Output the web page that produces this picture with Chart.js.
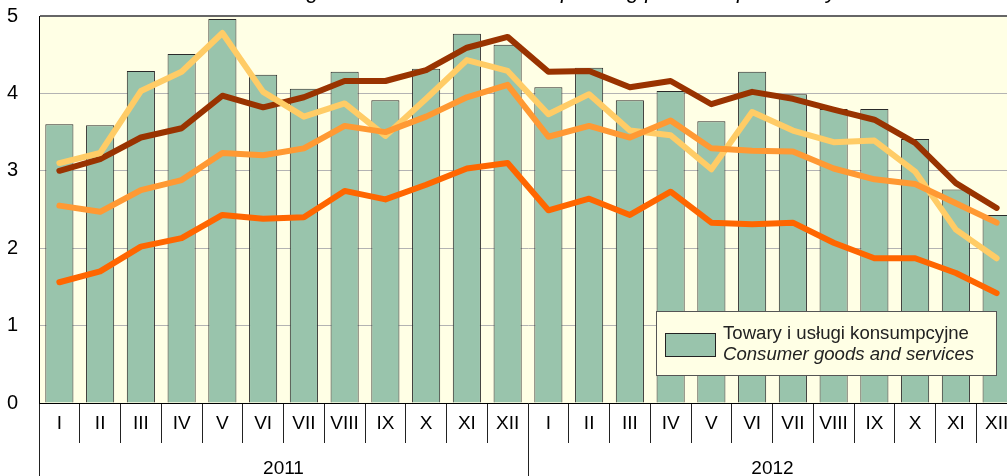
<!DOCTYPE html>
<html>
<head>
<meta charset="utf-8">
<script src="https://cdn.jsdelivr.net/npm/chart.js@4.4.1/dist/chart.umd.min.js"></script>
<style>
  body { margin: 0; overflow: hidden; background: #fff; }
  #wrap { position: absolute; left: 0; top: 0; width: 1040px; height: 476px; }
  #cut { position: absolute; left: 254px; top: -22px; line-height: 25px; font: italic 22px "Liberation Sans", Arial, sans-serif; color: #000; white-space: nowrap; }
</style>
</head>
<body>
<div id="wrap"><canvas id="chart" width="1040" height="476"></canvas></div>
<div id="cut">Change in relation to the corresponding period of previous year</div>
<script>
const months = ['I','II','III','IV','V','VI','VII','VIII','IX','X','XI','XII',
                'I','II','III','IV','V','VI','VII','VIII','IX','X','XI','XII'];
const years = ['2011', '2012'];
const legendLines = ['Towary i usługi konsumpcyjne', 'Consumer goods and services'];

// bars: consumer goods and services
const consumerGoods = [3.60, 3.59, 4.29, 4.51, 4.96, 4.24, 4.06, 4.28, 3.91, 4.32, 4.77, 4.63,
                       4.08, 4.33, 3.91, 4.03, 3.64, 4.28, 3.99, 3.80, 3.80, 3.41, 2.76, 2.43];
// lines
const brownLine = [3.00, 3.15, 3.43, 3.55, 3.97, 3.82, 3.95, 4.16, 4.16, 4.30, 4.59, 4.73,
                   4.28, 4.29, 4.08, 4.16, 3.86, 4.02, 3.93, 3.79, 3.66, 3.36, 2.84, 2.52];
const yellowLine = [3.10, 3.23, 4.03, 4.28, 4.78, 4.02, 3.70, 3.87, 3.45, 3.93, 4.43, 4.29,
                    3.73, 3.99, 3.52, 3.46, 3.02, 3.76, 3.52, 3.37, 3.39, 2.99, 2.24, 1.87];
const orangeLine = [2.55, 2.47, 2.75, 2.88, 3.23, 3.20, 3.29, 3.58, 3.50, 3.70, 3.95, 4.11,
                    3.44, 3.58, 3.43, 3.65, 3.29, 3.26, 3.25, 3.03, 2.89, 2.83, 2.58, 2.33];
const darkOrangeLine = [1.56, 1.70, 2.02, 2.13, 2.43, 2.38, 2.40, 2.74, 2.63, 2.82, 3.03, 3.10,
                        2.49, 2.64, 2.43, 2.73, 2.33, 2.31, 2.33, 2.07, 1.87, 1.87, 1.68, 1.42];

const FONT = '"Liberation Sans", Arial, sans-serif';

const plotBackground = {
  id: 'plotBackground',
  beforeDraw(chart) {
    const { ctx, chartArea: a } = chart;
    ctx.save();
    ctx.fillStyle = '#ffffe5';
    ctx.fillRect(a.left, a.top, a.right - a.left, a.bottom - a.top);
    ctx.restore();
  }
};

// boxed legend with two text lines, only for the bars
const boxLegend = {
  id: 'boxLegend',
  afterDraw(chart) {
    const ctx = chart.ctx;
    const ds = chart.data.datasets[0];
    ctx.save();
    ctx.fillStyle = '#ffffe5';
    ctx.fillRect(656, 311, 340, 64);
    ctx.strokeStyle = '#555';
    ctx.lineWidth = 1;
    ctx.strokeRect(656.5, 311.5, 340, 64);
    ctx.fillStyle = ds.backgroundColor;
    ctx.fillRect(665, 333, 51, 24);
    ctx.strokeStyle = '#222';
    ctx.strokeRect(665.5, 333.5, 50, 23);
    ctx.fillStyle = '#222';
    ctx.textBaseline = 'alphabetic';
    ctx.font = '18.6px ' + FONT;
    ctx.fillText(legendLines[0], 723, 339);
    ctx.font = 'italic 18.6px ' + FONT;
    ctx.fillText(legendLines[1], 723, 360);
    ctx.restore();
  }
};

function lineSet(label, data, color) {
  return {
    type: 'line',
    label: label,
    data: data,
    borderColor: color,
    backgroundColor: color,
    borderWidth: 6,
    pointRadius: 0,
    tension: 0,
    borderCapStyle: 'round',
    borderJoinStyle: 'round',
    order: 0
  };
}

new Chart(document.getElementById('chart'), {
  type: 'bar',
  data: {
    labels: months,
    datasets: [
      {
        label: legendLines[0],
        data: consumerGoods,
        backgroundColor: '#99c4ac',
        borderColor: '#2a2a2a',
        borderWidth: 1,
        categoryPercentage: 1,
        barPercentage: 0.69,
        order: 5
      },
      lineSet('A', darkOrangeLine, '#ff6600'),
      lineSet('B', orangeLine, '#ff9933'),
      lineSet('C', yellowLine, '#ffcc66'),
      lineSet('D', brownLine, '#993300')
    ]
  },
  plugins: [plotBackground, boxLegend],
  options: {
    responsive: false,
    animation: false,
    layout: { padding: { left: 0, right: 23, top: 16, bottom: 0 } },
    plugins: {
      legend: { display: false },
      tooltip: { enabled: false }
    },
    scales: {
      y: {
        min: 0,
        max: 5,
        ticks: {
          stepSize: 1,
          padding: 0,
          color: '#000',
          font: { family: FONT, size: 20 }
        },
        grid: {
          tickLength: 21,
          tickColor: 'rgba(0,0,0,0)',
          color: c => c.tick.value === 5 ? '#666' : '#b3b3b3',
          lineWidth: c => c.tick.value === 5 ? 2 : 1
        },
        border: { color: '#000', width: 1 },
        afterFit: s => { s.width = 39; }
      },
      x: {
        weight: 1,
        offset: true,
        ticks: {
          padding: -31,
          color: '#000',
          autoSkip: false,
          maxRotation: 0,
          font: { family: FONT, size: 19 }
        },
        grid: {
          offset: true,
          drawOnChartArea: false,
          tickLength: 40,
          color: '#222'
        },
        border: { color: '#000', width: 1 },
        afterFit: s => { s.height = 40; }
      },
      x2: {
        type: 'category',
        labels: years,
        position: 'bottom',
        weight: 2,
        offset: true,
        ticks: {
          padding: -26,
          color: '#000',
          maxRotation: 0,
          font: { family: FONT, size: 19 }
        },
        grid: {
          offset: true,
          drawOnChartArea: false,
          tickLength: 40,
          color: '#222'
        },
        border: { display: false },
        afterFit: s => { s.height = 33; }
      }
    }
  }
});
</script>
</body>
</html>
